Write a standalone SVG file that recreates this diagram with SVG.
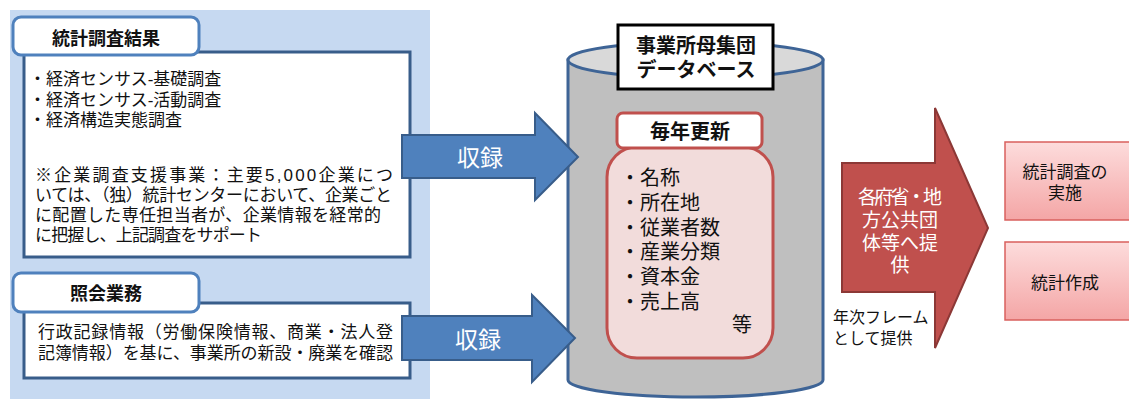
<svg xmlns="http://www.w3.org/2000/svg" width="1129" height="399" viewBox="0 0 1129 399">
<defs>
<style>
text{font-family:"Liberation Sans","Noto Sans CJK JP",sans-serif;fill:#111;}
.b{font-weight:bold;}
.tab{fill:#fff;stroke:#4f81bd;stroke-width:3;}
.box{fill:#fff;stroke:#385d8a;stroke-width:3;}
.barrow{fill:#4f81bd;stroke:#385d8a;stroke-width:2;}
.w{fill:#fff;}
.t17{font-size:17px;}
.t20{font-size:20px;}
.pbox{fill:url(#pg);stroke:#d9605e;stroke-width:1.5;}
</style>
<linearGradient id="pg" x1="0" y1="0" x2="0" y2="1">
<stop offset="0" stop-color="#fddcdc"/>
<stop offset="1" stop-color="#f4a6a6"/>
</linearGradient>
</defs>
<rect x="10" y="10" width="420" height="389" fill="#c6d9f1"/>
<g id="node-survey">
<rect class="box" x="24" y="52" width="386" height="205"/>
<rect class="tab" x="13" y="17" width="186" height="38" rx="8"/>
<text class="b" x="106" y="45" font-size="18" text-anchor="middle">統計調査結果</text>
<text class="t17"><tspan x="29" y="85">・</tspan><tspan x="46" y="85">経済センサス-基礎調査</tspan><tspan x="29" y="106">・</tspan><tspan x="46" y="106">経済センサス-活動調査</tspan><tspan x="29" y="126">・</tspan><tspan x="46" y="126">経済構造実態調査</tspan><tspan x="35" y="181" textLength="358">※企業調査支援事業：主要5,000企業につ</tspan><tspan x="35" y="201" textLength="357">いては、（独）統計センターにおいて、企業ごと</tspan><tspan x="35" y="221" textLength="346">に配置した専任担当者が、企業情報を経常的</tspan><tspan x="35" y="241" textLength="227">に把握し、上記調査をサポート</tspan></text>
</g>
<g id="node-inquiry">
<rect class="box" x="24" y="303" width="386" height="75"/>
<rect class="tab" x="13" y="273" width="186" height="39" rx="8"/>
<text class="b" x="106" y="300" font-size="18" text-anchor="middle">照会業務</text>
<text class="t17"><tspan x="38" y="338" textLength="355">行政記録情報（労働保険情報、商業・法人登</tspan><tspan x="38" y="359" textLength="355">記簿情報）を基に、事業所の新設・廃業を確認</tspan></text>
</g>
<g id="node-database">
<path d="M568,60 L568,380 A127.5,17 0 0 0 823,380 L823,60 Z" fill="#bfbfbf" stroke="#3e6496" stroke-width="3"/>
<ellipse cx="695.5" cy="60" rx="127.5" ry="18" fill="#d9d9d9" stroke="#3e6496" stroke-width="3"/>
<rect x="618" y="25" width="155" height="64" fill="#fff" stroke="#000" stroke-width="3"/>
<text class="b" font-size="20" text-anchor="middle"><tspan x="696" y="53">事業所母集団</tspan><tspan x="696" y="77">データベース</tspan></text>
<rect x="607" y="147" width="166" height="211" rx="30" fill="#f2dcdb" stroke="#c0504d" stroke-width="3"/>
<rect x="617" y="113" width="145" height="35" rx="6" fill="#fff" stroke="#c0504d" stroke-width="3"/>
<text class="b" x="690" y="139" font-size="20" text-anchor="middle">毎年更新</text>
<text class="t20"><tspan x="620" y="185">・</tspan><tspan x="640" y="185">名称</tspan><tspan x="620" y="210">・</tspan><tspan x="640" y="210">所在地</tspan><tspan x="620" y="235">・</tspan><tspan x="640" y="235">従業者数</tspan><tspan x="620" y="259">・</tspan><tspan x="640" y="259">産業分類</tspan><tspan x="620" y="284">・</tspan><tspan x="640" y="284">資本金</tspan><tspan x="620" y="309">・</tspan><tspan x="640" y="309">売上高</tspan><tspan x="732" y="332">等</tspan></text>
</g>
<g id="node-survey-impl">
<rect class="pbox" x="1005" y="142" width="126" height="78"/>
<text class="t17" text-anchor="middle"><tspan x="1065" y="178">統計調査の</tspan><tspan x="1065" y="199">実施</tspan></text>
</g>
<g id="node-stat">
<rect class="pbox" x="1005" y="242" width="126" height="78"/>
<text class="t17" x="1065" y="289" text-anchor="middle">統計作成</text>
</g>
<g id="connectors">
<polygon class="barrow" points="402,135 535,135 535,113 578,157 535,200 535,178 402,178"/>
<text class="w" x="480" y="166" font-size="23" text-anchor="middle">収録</text>
<polygon class="barrow" points="402,316 532,316 532,295 575,338 532,382 532,360 402,360"/>
<text class="w" x="478" y="348" font-size="23" text-anchor="middle">収録</text>
<polygon points="842,163 935,163 935,108 988,228 935,348 935,292 842,292" fill="#c0504d" stroke="#8c3836" stroke-width="2"/>
<text class="w" font-size="19" text-anchor="middle"><tspan x="900" y="204" textLength="84">各府省・地</tspan><tspan x="900" y="227">方公共団</tspan><tspan x="900" y="250">体等へ提</tspan><tspan x="900" y="272">供</tspan></text>
<text font-size="16"><tspan x="833" y="323">年次フレーム</tspan><tspan x="833" y="344">として提供</tspan></text>
</g>
</svg>
